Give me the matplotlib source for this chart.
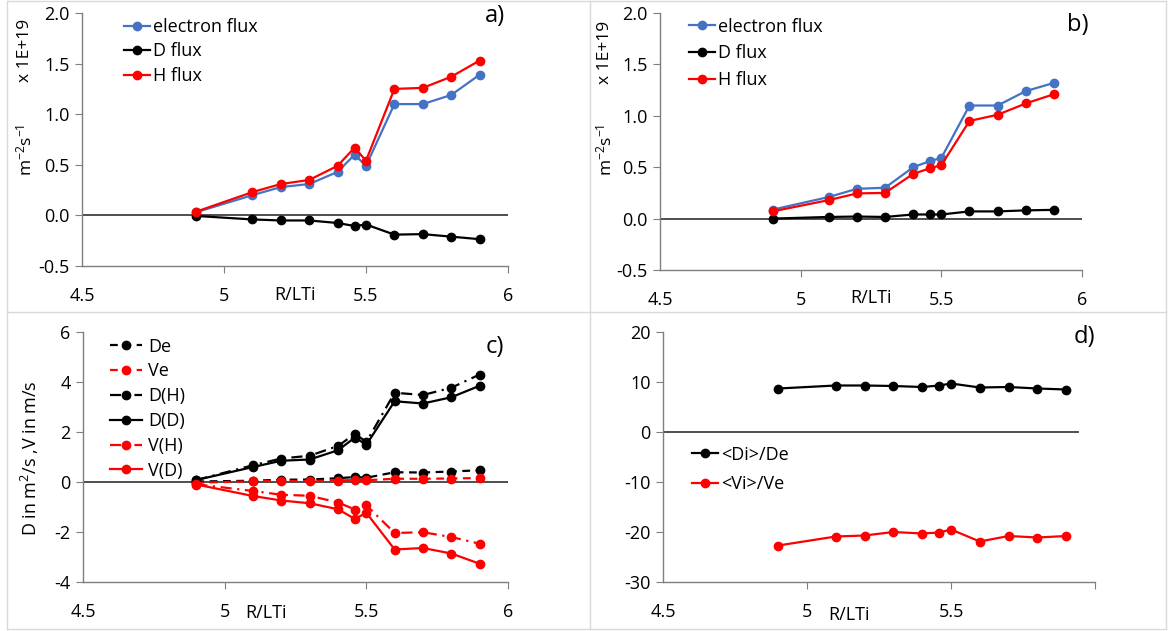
import matplotlib
matplotlib.use('Agg')
import matplotlib.pyplot as plt
from matplotlib.lines import Line2D

plt.rcParams['font.family'] = ['Open Sans', 'DejaVu Sans']
plt.rcParams['mathtext.default'] = 'regular'

# R/LTi scan
r_lti = [4.9, 5.1, 5.2, 5.3, 5.4, 5.46, 5.5, 5.6, 5.7, 5.8, 5.9]

# a) fluxes (x 1E+19)
a_electron = [0.03, 0.20, 0.28, 0.31, 0.43, 0.60, 0.49, 1.10, 1.10, 1.19, 1.39]
a_d_flux = [-0.005, -0.04, -0.05, -0.05, -0.075, -0.105, -0.09, -0.19, -0.185, -0.21, -0.235]
a_h_flux = [0.035, 0.23, 0.31, 0.35, 0.49, 0.67, 0.54, 1.25, 1.26, 1.37, 1.53]

# b) fluxes (x 1E+19)
b_electron = [0.087, 0.21, 0.29, 0.30, 0.50, 0.56, 0.59, 1.10, 1.10, 1.24, 1.32]
b_d_flux = [0.0, 0.016, 0.02, 0.016, 0.04, 0.04, 0.04, 0.07, 0.07, 0.08, 0.085]
b_h_flux = [0.07, 0.18, 0.245, 0.25, 0.435, 0.49, 0.52, 0.95, 1.01, 1.12, 1.21]

# c) transport coefficients
c_de = [0.02, 0.05, 0.09, 0.10, 0.15, 0.20, 0.17, 0.39, 0.38, 0.42, 0.47]
c_ve = [-0.03, 0.03, 0.04, 0.04, 0.06, 0.08, 0.07, 0.13, 0.13, 0.14, 0.16]
c_dh = [0.08, 0.67, 0.94, 1.05, 1.44, 1.93, 1.60, 3.57, 3.48, 3.77, 4.30]
c_dd = [0.08, 0.60, 0.85, 0.90, 1.27, 1.78, 1.49, 3.23, 3.14, 3.39, 3.85]
c_vh = [-0.09, -0.36, -0.51, -0.55, -0.82, -1.10, -0.93, -2.04, -2.01, -2.20, -2.47]
c_vd = [-0.10, -0.56, -0.74, -0.85, -1.09, -1.48, -1.23, -2.70, -2.64, -2.86, -3.27]

# d) ratios
d_di_de = [8.7, 9.3, 9.3, 9.2, 9.0, 9.3, 9.7, 8.9, 9.0, 8.7, 8.5]
d_vi_ve = [-22.7, -20.9, -20.7, -20.0, -20.3, -20.1, -19.5, -21.9, -20.8, -21.1, -20.8]

BLUE = '#4472C4'
RED = '#FF0000'
BLACK = '#000000'
SPINE = '#7F7F7F'
FS = 13
DASH = (0, (3.5, 2.5))
DASHDOT = (0, (5, 2.5, 1, 2.5))

W, H = 1168, 631
fig = plt.figure(figsize=(W / 100, H / 100), dpi=100)


def px_axes(x0, y0, x1, y1):
    return fig.add_axes([x0 / W, 1 - y1 / H, (x1 - x0) / W, (y1 - y0) / H])


def style(ax, ylim, yticks, yfmt, xlabels, zero_end=6.0):
    ax.set_xlim(4.5, 6)
    ax.set_ylim(*ylim)
    ax.set_yticks(yticks)
    ax.set_yticklabels([yfmt.format(v) for v in yticks], fontsize=FS)
    ax.set_xticks([4.5, 5, 5.5, 6])
    ax.set_xticklabels(xlabels, fontsize=FS)
    for s in ['top', 'right']:
        ax.spines[s].set_visible(False)
    for s in ['left', 'bottom']:
        ax.spines[s].set_color(SPINE)
        ax.spines[s].set_linewidth(1.0)
    ax.tick_params(axis='y', length=5, color=SPINE, pad=4)
    ax.tick_params(axis='x', length=5, color=SPINE, pad=10)
    ax.xaxis.get_major_ticks()[0].tick1line.set_visible(False)
    ax.plot([4.5, zero_end], [0, 0], color='#404040', lw=1.3, zorder=1)
    ax.patch.set_alpha(0)


mk = dict(marker='o', markersize=6, lw=1.6)

# ---- a)
ax = px_axes(82, 13, 508, 266)
ax.plot(r_lti, a_electron, color=BLUE, label='electron flux', **mk)
ax.plot(r_lti, a_d_flux, color=BLACK, label='D flux', **mk)
ax.plot(r_lti, a_h_flux, color=RED, label='H flux', **mk)
style(ax, (-0.5, 2.0), [-0.5, 0, 0.5, 1.0, 1.5, 2.0], '{:.1f}', ['4.5', '5', '5.5', '6'])
ax.legend(loc='upper left', bbox_to_anchor=(0.06, 1.045), frameon=False, fontsize=FS,
          handlelength=1.45, handletextpad=0.15, labelspacing=0.36)
ax.text(0.97, 0.99, 'a)', transform=ax.transAxes, fontsize=17, ha='center', va='center')
ax.text(0.5, -0.115, 'R/LTi', transform=ax.transAxes, fontsize=FS, ha='center', va='center')
fig.text(25 / W, 1 - 50 / H, 'x 1E+19', rotation=90, fontsize=12.5, ha='center', va='center')
fig.text(25 / W, 1 - 150 / H, 'm$^{-2}$s$^{-1}$', rotation=90, fontsize=12.5, ha='center', va='center')

# ---- b)
ax = px_axes(660, 13, 1082, 270)
ax.plot(r_lti, b_electron, color=BLUE, label='electron flux', **mk)
ax.plot(r_lti, b_d_flux, color=BLACK, label='D flux', **mk)
ax.plot(r_lti, b_h_flux, color=RED, label='H flux', **mk)
style(ax, (-0.5, 2.0), [-0.5, 0, 0.5, 1.0, 1.5, 2.0], '{:.1f}', ['4.5', '5', '5.5', '6'])
ax.legend(loc='upper left', bbox_to_anchor=(0.03, 1.045), frameon=False, fontsize=FS,
          handlelength=1.45, handletextpad=0.15, labelspacing=0.48)
ax.text(0.99, 0.953, 'b)', transform=ax.transAxes, fontsize=17, ha='center', va='center')
ax.text(0.5, -0.11, 'R/LTi', transform=ax.transAxes, fontsize=FS, ha='center', va='center')
fig.text(605 / W, 1 - 52 / H, 'x 1E+19', rotation=90, fontsize=12.5, ha='center', va='center')
fig.text(605 / W, 1 - 150 / H, 'm$^{-2}$s$^{-1}$', rotation=90, fontsize=12.5, ha='center', va='center')

# ---- c)
ax = px_axes(83, 332, 508, 582)
ax.plot(r_lti, c_de, color=BLACK, ls=DASH, label='De', **mk)
ax.plot(r_lti, c_ve, color=RED, ls=DASH, label='Ve', **mk)
ax.plot(r_lti, c_dh, color=BLACK, ls=DASHDOT, label='D(H)', **mk)
ax.plot(r_lti, c_dd, color=BLACK, ls='-', label='D(D)', **mk)
ax.plot(r_lti, c_vh, color=RED, ls=DASHDOT, label='V(H)', **mk)
ax.plot(r_lti, c_vd, color=RED, ls='-', label='V(D)', **mk)
style(ax, (-4, 6), [-4, -2, 0, 2, 4, 6], '{:d}', ['4.5', '5', '5.5', '6'])
ax.legend(loc='upper left', bbox_to_anchor=(0.025, 1.043), frameon=False, fontsize=FS,
          handlelength=1.8, handletextpad=0.3, labelspacing=0.38)
ax.text(0.97, 0.94, 'c)', transform=ax.transAxes, fontsize=17, ha='center', va='center')
ax.text(0.43, -0.125, 'R/LTi', transform=ax.transAxes, fontsize=FS, ha='center', va='center')
fig.text(30 / W, 1 - 458 / H, 'D in m$^{2}$/s ,V in m/s', rotation=90, fontsize=13,
         ha='center', va='center')

# ---- d)
ax = px_axes(663, 332, 1095, 582)
ax.plot(r_lti, d_di_de, color=BLACK, label='<Di>/De', **mk)
ax.plot(r_lti, d_vi_ve, color=RED, label='<Vi>/Ve', **mk)
style(ax, (-30, 20), [-30, -20, -10, 0, 10, 20], '{:d}', ['4.5', '5', '5.5', ''], zero_end=5.94)
ax.legend(loc='upper left', bbox_to_anchor=(0.03, 0.61), frameon=False, fontsize=FS,
          handlelength=1.45, handletextpad=0.15, labelspacing=0.65)
ax.text(0.975, 0.98, 'd)', transform=ax.transAxes, fontsize=17, ha='center', va='center')
ax.text(0.43, -0.13, 'R/LTi', transform=ax.transAxes, fontsize=FS, ha='center', va='center')

# light panel borders
for xs, ys in [([7, 1166], [1, 1]), ([7, 1166], [629, 629]), ([7, 7], [1, 629]),
               ([1166, 1166], [1, 629]), ([590, 590], [1, 629]), ([7, 1166], [312, 312])]:
    fig.add_artist(Line2D([x / W for x in xs], [1 - y / H for y in ys],
                          color='#D9D9D9', lw=1.0))

fig.savefig('out.png', dpi=100, facecolor='white')
